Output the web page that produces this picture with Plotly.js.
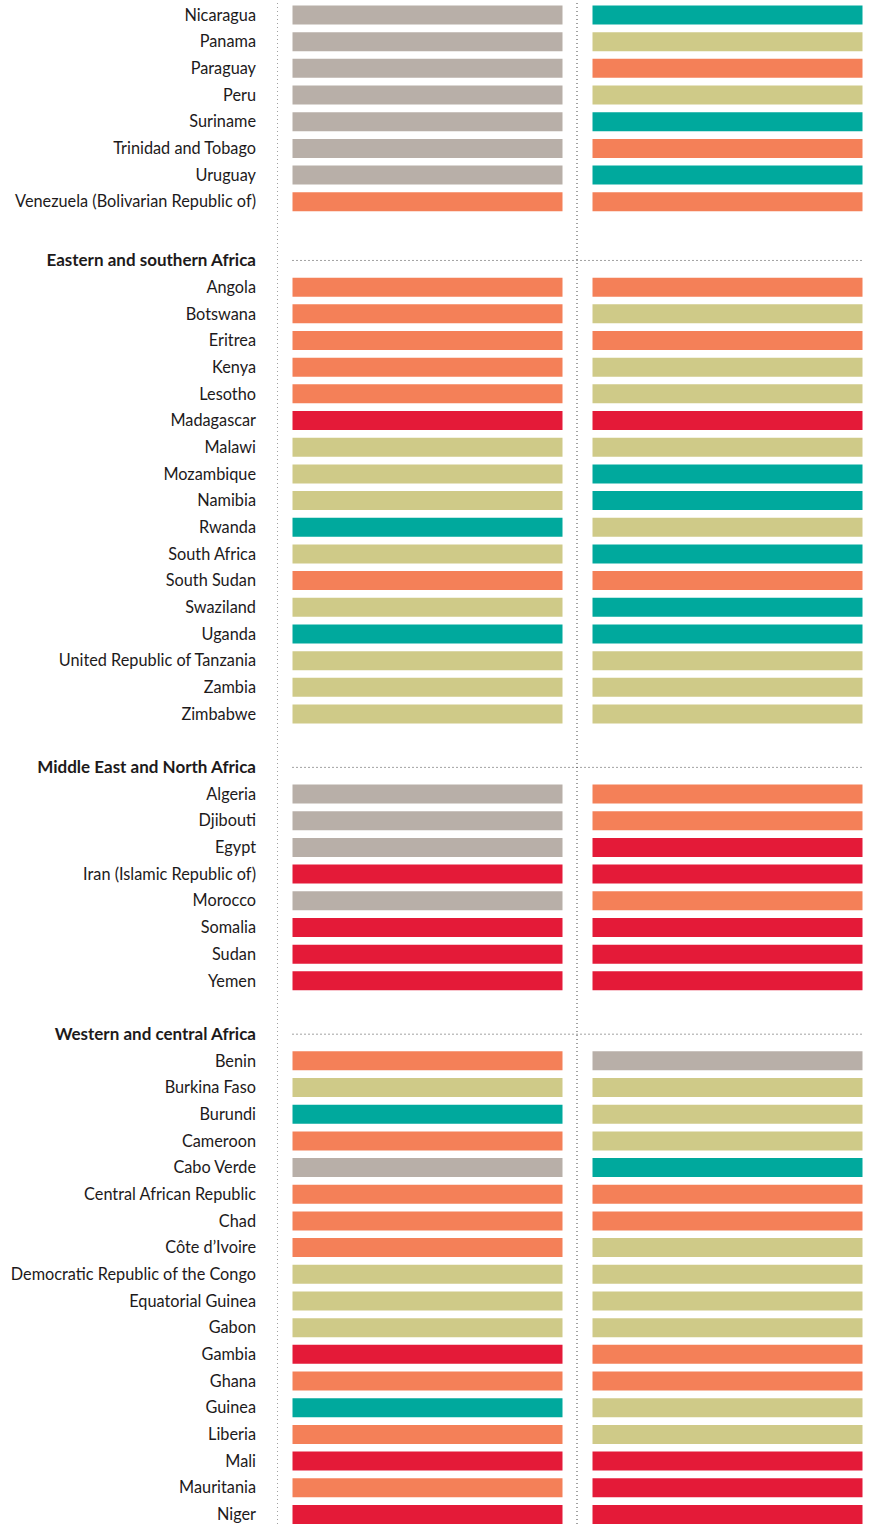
<!DOCTYPE html>
<html>
<head>
<meta charset="utf-8">
<script src="https://cdn.plot.ly/plotly-3.0.1.min.js"></script>
<style>html,body{margin:0;padding:0;background:#fff;}#chart{width:873px;height:1524px;}</style>
</head>
<body>
<div id="chart"></div>
<script>
// ---- DATA ----
const sectionTitles = ["", "Eastern and southern Africa", "Middle East and North Africa", "Western and central Africa"];
const countriesLatAm = ["Nicaragua","Panama","Paraguay","Peru","Suriname","Trinidad and Tobago","Uruguay","Venezuela (Bolivarian Republic of)"];
const statusLatAmA = ["grey","grey","grey","grey","grey","grey","grey","orange"];
const statusLatAmB = ["teal","khaki","orange","khaki","teal","orange","teal","orange"];

const countriesESA = ["Angola","Botswana","Eritrea","Kenya","Lesotho","Madagascar","Malawi","Mozambique","Namibia","Rwanda","South Africa","South Sudan","Swaziland","Uganda","United Republic of Tanzania","Zambia","Zimbabwe"];
const statusESAA = ["orange","orange","orange","orange","orange","red","khaki","khaki","khaki","teal","khaki","orange","khaki","teal","khaki","khaki","khaki"];
const statusESAB = ["orange","khaki","orange","khaki","khaki","red","khaki","teal","teal","khaki","teal","orange","teal","teal","khaki","khaki","khaki"];

const countriesMENA = ["Algeria","Djibouti","Egypt","Iran (Islamic Republic of)","Morocco","Somalia","Sudan","Yemen"];
const statusMENAA = ["grey","grey","grey","red","grey","red","red","red"];
const statusMENAB = ["orange","orange","red","red","orange","red","red","red"];

const countriesWCA = ["Benin","Burkina Faso","Burundi","Cameroon","Cabo Verde","Central African Republic","Chad","Côte d’Ivoire","Democratic Republic of the Congo","Equatorial Guinea","Gabon","Gambia","Ghana","Guinea","Liberia","Mali","Mauritania","Niger"];
const statusWCAA = ["orange","khaki","teal","orange","grey","orange","orange","orange","khaki","khaki","khaki","red","orange","teal","orange","red","orange","red"];
const statusWCAB = ["grey","khaki","khaki","khaki","teal","orange","orange","khaki","khaki","khaki","khaki","orange","orange","khaki","khaki","red","red","red"];

// ---- STYLE ----
const palette = {grey:"#b8afa8", teal:"#00a99d", khaki:"#cfca88", orange:"#f48058", red:"#e41a38"};
const W = 873, H = 1524;
const marginL = 277;
const firstRowPx = 15, rowPx = 26.68;
const sectionGap = [0, 2.2, 2, 2];   // rows between last row of previous section and next header
const colPx = 270, leftStartPx = 292.5, rightStartPx = 592.5, midLinePx = 577;

const sections = [
  {c: countriesLatAm, a: statusLatAmA, b: statusLatAmB},
  {c: countriesESA,   a: statusESAA,   b: statusESAB},
  {c: countriesMENA,  a: statusMENAA,  b: statusMENAB},
  {c: countriesWCA,   a: statusWCAA,   b: statusWCAB}
];

// build row positions
const ys = [], colA = [], colB = [], tickvals = [], ticktext = [], headerYs = [];
let u = -1;
sections.forEach((s, i) => {
  if (i > 0) {
    u += sectionGap[i];
    tickvals.push(u);
    ticktext.push('<span style="font-size:17px;font-weight:bold">' + sectionTitles[i] + '</span>');
    headerYs.push(u);
  }
  s.c.forEach((name, j) => {
    u += 1;
    ys.push(u); tickvals.push(u); ticktext.push(name);
    colA.push(palette[s.a[j]]); colB.push(palette[s.b[j]]);
  });
});

// x units: 1 unit = one column width
const px2x = p => (p - leftStartPx) / colPx;
const rightBase = px2x(rightStartPx);
const ones = ys.map(() => 1);

const barW = 19 / rowPx;
const traces = [
  {type: "bar", orientation: "h", y: ys, x: ones, base: 0, width: barW,
   marker: {color: colA, line: {width: 0}}, hoverinfo: "skip", showlegend: false},
  {type: "bar", orientation: "h", y: ys, x: ones, base: rightBase, width: barW,
   marker: {color: colB, line: {width: 0}}, hoverinfo: "skip", showlegend: false}
];

const dotLine = {color: "#444", width: 1, dash: "1px,3px"};
const shapes = [
  {type: "line", xref: "x", yref: "paper", x0: px2x(marginL), x1: px2x(marginL), y0: 0, y1: 1, line: dotLine, layer: "below"},
  {type: "line", xref: "x", yref: "paper", x0: px2x(midLinePx), x1: px2x(midLinePx), y0: 0, y1: 1, line: dotLine, layer: "below"}
];
headerYs.forEach(h => shapes.push({type: "line", xref: "x", yref: "y", x0: 0, x1: rightBase + 1, y0: h, y1: h, line: dotLine, layer: "below"}));

const layout = {
  width: W, height: H,
  margin: {l: marginL, r: 0, t: 0, b: 0, pad: 0},
  paper_bgcolor: "#fff", plot_bgcolor: "#fff",
  font: {family: "Lato, 'Noto Sans', sans-serif", size: 16.3, color: "#1d1a1b"},
  barmode: "overlay",
  xaxis: {range: [px2x(marginL), px2x(W)], showgrid: false, zeroline: false, showticklabels: false, showline: false, fixedrange: true},
  yaxis: {range: [(H - firstRowPx) / rowPx, -firstRowPx / rowPx], showgrid: false, zeroline: false, showline: false,
          tickmode: "array", tickvals: tickvals, ticktext: ticktext, ticks: "", ticklabelstandoff: 20, fixedrange: true},
  shapes: shapes
};

Plotly.newPlot("chart", traces, layout, {displayModeBar: false, staticPlot: true});
</script>
</body>
</html>
